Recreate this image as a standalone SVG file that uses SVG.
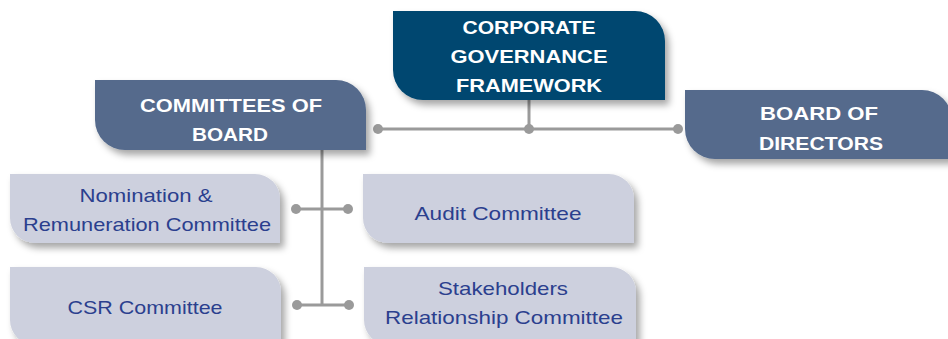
<svg xmlns="http://www.w3.org/2000/svg" width="948" height="339" viewBox="0 0 948 339">
<defs>
<filter id="sh" x="-10%" y="-20%" width="130%" height="150%">
<feDropShadow dx="4" dy="5" stdDeviation="3.5" flood-color="#000" flood-opacity="0.35"/>
</filter>
<style>
.dark{fill:#00476f}
.mid{fill:#546a8c}
.light{fill:#cdd0de}
.tw{font-family:"Liberation Sans",Arial,sans-serif;font-weight:bold;font-size:19px;fill:#fff;text-anchor:middle}
.tb{font-family:"Liberation Sans",Arial,sans-serif;font-size:19px;fill:#2b3f8e;text-anchor:middle}
.ln{stroke:#9a9a9a;stroke-width:3;fill:none}
.dot{fill:#9a9a9a}
</style>
</defs>
<rect width="948" height="339" fill="#fff"/>
<g id="connectors">
<line class="ln" x1="529" y1="100" x2="529" y2="129"/>
<line class="ln" x1="378" y1="129" x2="678" y2="129"/>
<line class="ln" x1="322" y1="150" x2="322" y2="305"/>
<line class="ln" x1="296" y1="209" x2="348" y2="209"/>
<line class="ln" x1="297" y1="305" x2="349" y2="305"/>
<circle class="dot" cx="378" cy="129" r="5"/>
<circle class="dot" cx="529" cy="129" r="5"/>
<circle class="dot" cx="678" cy="129" r="5"/>
<circle class="dot" cx="296" cy="209" r="5"/>
<circle class="dot" cx="348" cy="209" r="5"/>
<circle class="dot" cx="297" cy="305" r="5"/>
<circle class="dot" cx="349" cy="305" r="5"/>
</g>
<g id="cgf">
<path class="dark" filter="url(#sh)" d="M393,11 H635 A30,30 0 0 1 665,41 V100 H423 A30,30 0 0 1 393,70 Z"/>
<text class="tw" x="529" y="34" textLength="133" lengthAdjust="spacingAndGlyphs">CORPORATE</text>
<text class="tw" x="529" y="63" textLength="157" lengthAdjust="spacingAndGlyphs">GOVERNANCE</text>
<text class="tw" x="529" y="92" textLength="146" lengthAdjust="spacingAndGlyphs">FRAMEWORK</text>
</g>
<g id="committees">
<path class="mid" filter="url(#sh)" d="M95,80 H336 A30,30 0 0 1 366,110 V150 H125 A30,30 0 0 1 95,120 Z"/>
<text class="tw" x="231" y="112" textLength="182" lengthAdjust="spacingAndGlyphs">COMMITTEES OF</text>
<text class="tw" x="230" y="141" textLength="76" lengthAdjust="spacingAndGlyphs">BOARD</text>
</g>
<g id="board">
<path class="mid" filter="url(#sh)" d="M685,90 H922 A30,30 0 0 1 952,120 V159 H715 A30,30 0 0 1 685,129 Z"/>
<text class="tw" x="819" y="120" textLength="118" lengthAdjust="spacingAndGlyphs">BOARD OF</text>
<text class="tw" x="821" y="150" textLength="124" lengthAdjust="spacingAndGlyphs">DIRECTORS</text>
</g>
<g id="nomination">
<path class="light" filter="url(#sh)" d="M10,174 H255 A25,25 0 0 1 280,199 V243 H35 A25,25 0 0 1 10,218 Z"/>
<text class="tb" x="146" y="202" textLength="133" lengthAdjust="spacingAndGlyphs">Nomination &amp;</text>
<text class="tb" x="147" y="231" textLength="248" lengthAdjust="spacingAndGlyphs">Remuneration Committee</text>
</g>
<g id="audit">
<path class="light" filter="url(#sh)" d="M363,174 H609 A25,25 0 0 1 634,199 V243 H388 A25,25 0 0 1 363,218 Z"/>
<text class="tb" x="498" y="220" textLength="167" lengthAdjust="spacingAndGlyphs">Audit Committee</text>
</g>
<g id="csr">
<path class="light" filter="url(#sh)" d="M10,267 H256 A25,25 0 0 1 281,292 V345 H35 A25,25 0 0 1 10,320 Z"/>
<text class="tb" x="145" y="314" textLength="155" lengthAdjust="spacingAndGlyphs">CSR Committee</text>
</g>
<g id="stakeholders">
<path class="light" filter="url(#sh)" d="M364,267 H611 A25,25 0 0 1 636,292 V345 H389 A25,25 0 0 1 364,320 Z"/>
<text class="tb" x="503" y="295" textLength="130" lengthAdjust="spacingAndGlyphs">Stakeholders</text>
<text class="tb" x="504" y="324" textLength="238" lengthAdjust="spacingAndGlyphs">Relationship Committee</text>
</g>
</svg>
